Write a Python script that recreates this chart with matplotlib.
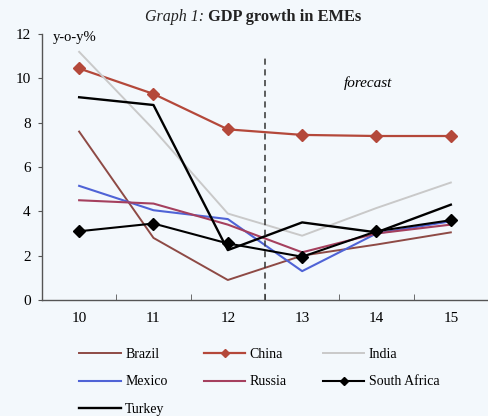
import numpy as np
import matplotlib.pyplot as plt

# Data (y-o-y %)
years = [10, 11, 12, 13, 14, 15]
brazil = [7.6, 2.8, 0.9, 2.0, 2.5, 3.05]
china = [10.45, 9.3, 7.7, 7.45, 7.4, 7.4]
india = [11.2, 7.7, 3.9, 2.9, 4.15, 5.3]
mexico = [5.15, 4.05, 3.65, 1.3, 3.0, 3.55]
russia = [4.5, 4.35, 3.4, 2.15, 3.0, 3.4]
south_africa = [3.1, 3.45, 2.55, 1.95, 3.1, 3.6]
turkey = [9.15, 8.8, 2.25, 3.5, 3.05, 4.3]

bg = "#F3F8FC"
plt.rcParams["font.family"] = ["Liberation Serif", "DejaVu Serif"]

fig = plt.figure(figsize=(4.88, 4.16), dpi=100, facecolor=bg)
ax = fig.add_axes([0.086, 0.279, 0.914, 0.639], facecolor=bg)

ax.plot(years, brazil, color="#8E4A45", lw=1.4, label="Brazil")
ax.plot(years, china, color="#B4483A", lw=1.6, marker="D", ms=6,
        label="China")
ax.plot(years, india, color="#C9C9C9", lw=1.4, label="India")
ax.plot(years, mexico, color="#4F63D6", lw=1.5, label="Mexico")
ax.plot(years, russia, color="#A5405E", lw=1.5, label="Russia")
ax.plot(years, south_africa, color="black", lw=1.5, marker="D", ms=6.5,
        label="South Africa")
ax.plot(years, turkey, color="black", lw=1.7, label="Turkey")

# forecast divider
ax.plot([12.5, 12.5], [0, 10.95], color="#333333", lw=1.1, ls=(0, (4, 3)))
ax.text(13.89, 9.8, "forecast", style="italic", fontsize=11, ha="center",
        va="center")
ax.text(9.65, 11.85, "y-o-y%", fontsize=10.5, ha="left", va="center")

ax.set_xlim(9.5, 15.5)
ax.set_ylim(0, 12)
ax.set_yticks(np.arange(0, 13, 2))
ax.set_xticks(years)
ax.set_xticks(np.arange(9.5, 15.6, 1), minor=True)
ax.tick_params(axis="x", which="major", length=0, pad=9, labelsize=11)
ax.tick_params(axis="x", which="minor", direction="in", length=4,
               color="#555555")
ax.tick_params(axis="y", direction="out", length=3, labelsize=11,
               color="#555555", pad=5)
for s in ["top", "right"]:
    ax.spines[s].set_visible(False)
for s in ["left", "bottom"]:
    ax.spines[s].set_color("#555555")
    ax.spines[s].set_linewidth(1.0)

fig.text(0.418, 0.959, "Graph 1:", style="italic", fontsize=11.5,
         ha="right", va="center", color="#222222")
fig.text(0.418, 0.959, " GDP growth in EMEs", weight="bold", fontsize=11.8,
         ha="left", va="center", color="#222222")

# legend in row order (matplotlib fills column by column)
h, l = ax.get_legend_handles_labels()
order = [0, 3, 6, 1, 4, 2, 5]
leg = fig.legend([h[i] for i in order], [l[i] for i in order], ncol=3,
                 loc="lower left", bbox_to_anchor=(0.137, -0.03),
                 frameon=False, fontsize=10, handlelength=3.0,
                 columnspacing=2.6, labelspacing=1.05, handletextpad=0.3,
                 markerscale=0.7)

fig.savefig("out.png", dpi=100, facecolor=bg)
